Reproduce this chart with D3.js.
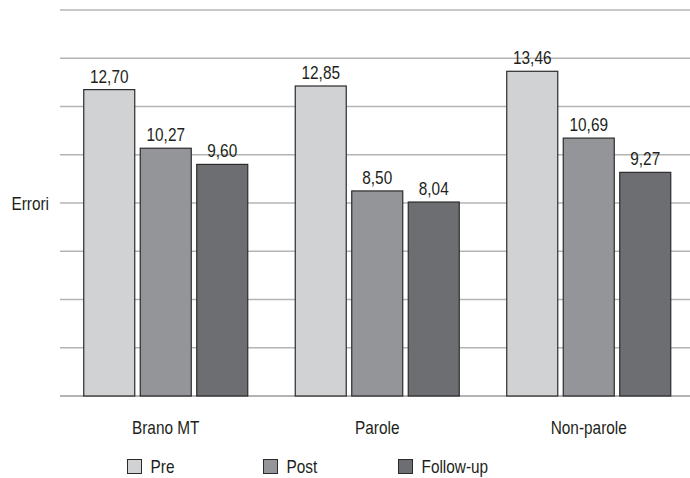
<!DOCTYPE html>
<html>
<head>
<meta charset="utf-8">
<script src="https://cdn.jsdelivr.net/npm/d3@7/dist/d3.min.js"></script>
<style>
  html, body { margin: 0; padding: 0; background: #fff; }
  svg { display: block; }
  text { font-family: "Liberation Sans", Arial, sans-serif; fill: #231f20; }
</style>
</head>
<body>
<svg id="chart" width="690" height="478"></svg>
<script>
// Error counts per task, three measurement times
const categories = ["Brano MT", "Parole", "Non-parole"];
const seriesNames = ["Pre", "Post", "Follow-up"];
const preValues = [12.70, 12.85, 13.46];
const postValues = [10.27, 8.50, 10.69];
const followUpValues = [9.60, 8.04, 9.27];
const gridTicks = [0, 2, 4, 6, 8, 10, 12, 14, 16];
const yLabel = "Errori";

const seriesColors = ["#d1d2d4", "#939598", "#6d6e71"];
const seriesValues = [preValues, postValues, followUpValues];

// condensed lettering: narrow the regular face horizontally
const squeeze = 0.855;
const placeText = (sel, fx, fy) =>
  sel.attr("transform", (d, i) => `translate(${fx(d, i)},${fy(d, i)}) scale(${squeeze},1)`);

const svg = d3.select("#chart");

const x0 = d3.scaleBand()
  .domain(categories)
  .range([60, 694.5])
  .paddingInner(0)
  .paddingOuter(0);

const barW = 51, barGap = 5.5;
const groupW = barW * 3 + barGap * 2;
const x1 = d3.scaleOrdinal()
  .domain(seriesNames)
  .range(seriesNames.map((_, i) => i * (barW + barGap)));

const y = d3.scaleLinear().domain([0, 16]).range([396, 10]);

// horizontal gridlines
svg.append("g")
  .selectAll("line")
  .data(gridTicks)
  .join("line")
  .attr("x1", 60)
  .attr("x2", 690)
  .attr("y1", d => y(d))
  .attr("y2", d => y(d))
  .attr("stroke", d => d === 0 ? "#9a9a9a" : "#b4b4b4")
  .attr("stroke-width", 1.5);

// axis title
svg.append("text")
  .datum(yLabel)
  .attr("text-anchor", "end")
  .attr("font-size", 18)
  .call(placeText, () => 49, () => (y(0) + y(16)) / 2 + 7)
  .text(d => d);

// bars
const rows = [];
categories.forEach((c, ci) => {
  seriesNames.forEach((s, si) => {
    rows.push({ cat: c, series: s, si, value: seriesValues[si][ci] });
  });
});

const groupX = c => x0(c) + (x0.bandwidth() - groupW) / 2;

svg.append("g")
  .selectAll("rect")
  .data(rows)
  .join("rect")
  .attr("x", d => groupX(d.cat) + x1(d.series))
  .attr("y", d => y(d.value))
  .attr("width", barW)
  .attr("height", d => y(0) - y(d.value))
  .attr("fill", d => seriesColors[d.si])
  .attr("stroke", "#2b2b2b")
  .attr("stroke-width", 1.2);

// value labels
const fmt = v => d3.format(".2f")(v).replace(".", ",");
svg.append("g")
  .selectAll("text")
  .data(rows)
  .join("text")
  .attr("text-anchor", "middle")
  .attr("font-size", 18)
  .call(placeText, d => groupX(d.cat) + x1(d.series) + barW / 2, d => y(d.value) - 7)
  .text(d => fmt(d.value));

// category labels
svg.append("g")
  .selectAll("text")
  .data(categories)
  .join("text")
  .attr("text-anchor", "middle")
  .attr("font-size", 18)
  .call(placeText, c => groupX(c) + groupW / 2, () => 434)
  .text(c => c);

// legend
const legendX = [127.5, 263.5, 398.5];
const legend = svg.append("g")
  .selectAll("g")
  .data(seriesNames)
  .join("g")
  .attr("transform", (d, i) => `translate(${legendX[i]},459.5)`);

legend.append("rect")
  .attr("width", 14)
  .attr("height", 14)
  .attr("fill", (d, i) => seriesColors[i])
  .attr("stroke", "#2b2b2b")
  .attr("stroke-width", 1);

legend.append("text")
  .attr("font-size", 18)
  .call(placeText, () => 23, () => 13.5)
  .text(d => d);
</script>
</body>
</html>
